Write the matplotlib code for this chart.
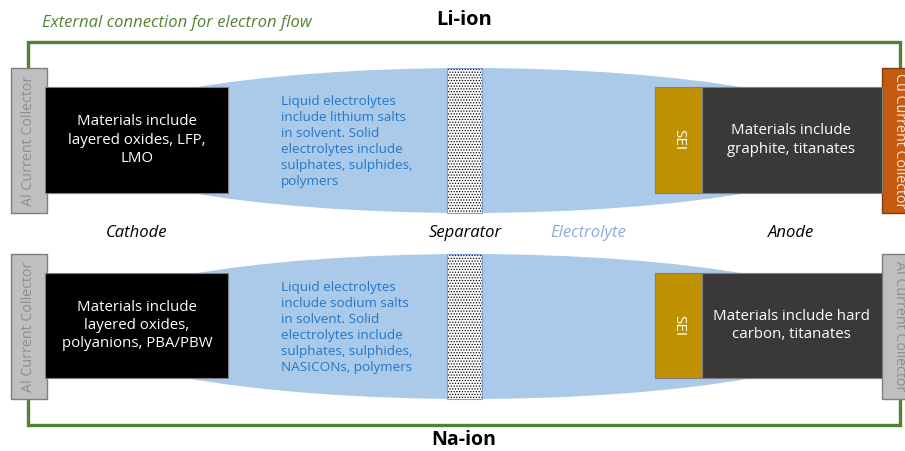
import matplotlib.pyplot as plt
from matplotlib.patches import Rectangle, Ellipse

# =========================
# TEXT CONTENT
# =========================
cell_names = ["Li-ion", "Na-ion"]
cathode_texts = ["Materials include\nlayered oxides, LFP,\nLMO",
                 "Materials include\nlayered oxides,\npolyanions, PBA/PBW"]
electrolyte_texts = ["Liquid electrolytes\ninclude lithium salts\nin solvent. Solid\n"
                     "electrolytes include\nsulphates, sulphides,\npolymers",
                     "Liquid electrolytes\ninclude sodium salts\nin solvent. Solid\n"
                     "electrolytes include\nsulphates, sulphides,\nNASICONs, polymers"]
anode_texts = ["Materials include\ngraphite, titanates",
               "Materials include hard\ncarbon, titanates"]
left_collectors = ["Al Current Collector", "Al Current Collector"]
right_collectors = ["Cu Current Collector", "Al Current Collector"]
row_labels = ["Cathode", "Separator", "Electrolyte", "Anode"]
wire_label = "External connection for electron flow"

# =========================
# STYLE
# =========================
FONT = "Open Sans"
GREEN = "#548235"
BLUE_FILL = "#abc9e8"
BLUE_TEXT = "#2378c8"
AL_FILL, AL_EDGE, AL_TEXT = "#bfbfbf", "#7f7f7f", "#8f8f8f"
CU_FILL, CU_TEXT = "#c55a11", "#fbe5d6"
SEI_FILL = "#bf9000"
ANODE_FILL = "#3b3838"

plt.rcParams["font.family"] = [FONT, "DejaVu Sans"]
plt.rcParams["hatch.linewidth"] = 0.6

fig = plt.figure(figsize=(9.05, 4.51), dpi=100)
ax = fig.add_axes([0, 0, 1, 1])
ax.set_xlim(0, 905)
ax.set_ylim(451, 0)
ax.axis("off")

# layout (pixel coordinates, y down)
rows = [dict(top=68, box_top=87, box_bot=193, bot=213, wire=41.5),
        dict(top=254, box_top=273, box_bot=378, bot=399, wire=425)]

for i, r in enumerate(rows):
    mid = (r["top"] + r["bot"]) / 2

    # electrolyte region
    ax.add_patch(Ellipse((469, mid), 805, r["bot"] - r["top"],
                         facecolor=BLUE_FILL, edgecolor="none", zorder=1))

    # separator
    ax.add_patch(Rectangle((447, r["top"]), 35, r["bot"] - r["top"],
                           facecolor="white", edgecolor="black", lw=0,
                           hatch="......", zorder=2))
    ax.add_patch(Rectangle((447, r["top"]), 35, r["bot"] - r["top"],
                           facecolor="none", edgecolor="#7f9fd6", lw=0.8, zorder=3))

    # external wire
    end_y = r["top"] if i == 0 else r["bot"]
    ax.plot([28, 28, 900, 900], [end_y, r["wire"], r["wire"], end_y],
            color=GREEN, lw=2.4, solid_joinstyle="miter", zorder=1)

    # left collector
    ax.add_patch(Rectangle((11, r["top"]), 36, r["bot"] - r["top"],
                           facecolor=AL_FILL, edgecolor=AL_EDGE, lw=1, zorder=3))
    ax.text(29, mid, left_collectors[i], rotation=90, ha="center", va="center",
            color=AL_TEXT, fontsize=10.3, zorder=4)

    # right collector
    is_cu = right_collectors[i].startswith("Cu")
    ax.add_patch(Rectangle((882, r["top"]), 36, r["bot"] - r["top"],
                           facecolor=CU_FILL if is_cu else AL_FILL,
                           edgecolor="#843c0c" if is_cu else AL_EDGE,
                           lw=1, zorder=3))
    ax.text(899, mid, right_collectors[i], rotation=-90, ha="center", va="center",
            color=CU_TEXT if is_cu else AL_TEXT, fontsize=10.3, zorder=4)

    # cathode
    bh = r["box_bot"] - r["box_top"]
    bmid = (r["box_top"] + r["box_bot"]) / 2
    ax.add_patch(Rectangle((45, r["box_top"]), 183, bh,
                           facecolor="black", edgecolor="#7f7f7f", lw=0.8, zorder=3))
    ax.text(137, bmid, cathode_texts[i], ha="center", va="center", color="white",
            fontsize=10.8, linespacing=1.3, zorder=4)

    # electrolyte text
    ax.text(281, mid + 1, electrolyte_texts[i], ha="left", va="center",
            color=BLUE_TEXT, fontsize=9.7, linespacing=1.31, zorder=4)

    # SEI + anode
    ax.add_patch(Rectangle((655, r["box_top"]), 47, bh,
                           facecolor=SEI_FILL, edgecolor="#7f7f7f", lw=0.8, zorder=3))
    ax.text(678.5, bmid, "SEI", rotation=-90, ha="center", va="center",
            color="white", fontsize=11, zorder=4)
    ax.add_patch(Rectangle((702, r["box_top"]), 180, bh,
                           facecolor=ANODE_FILL, edgecolor="#7f7f7f", lw=0.8, zorder=3))
    ax.text(791, bmid, anode_texts[i], ha="center", va="center", color="white",
            fontsize=10.8, linespacing=1.3, zorder=4)

# titles
ax.text(464, 20, cell_names[0], ha="center", va="center", fontsize=14.5,
        fontweight="bold")
ax.text(464, 440, cell_names[1], ha="center", va="center", fontsize=14,
        fontweight="bold")
ax.text(42, 23, wire_label, ha="left", va="center", color=GREEN, fontsize=12,
        style="italic")

# middle labels
label_x = [137, 465, 588, 791]
label_colors = ["black", "black", "#8faadc", "black"]
for lab, x, c in zip(row_labels, label_x, label_colors):
    ax.text(x, 233, lab, ha="center", va="center", color=c, fontsize=12,
            style="italic")

fig.savefig("out.png", dpi=100)
